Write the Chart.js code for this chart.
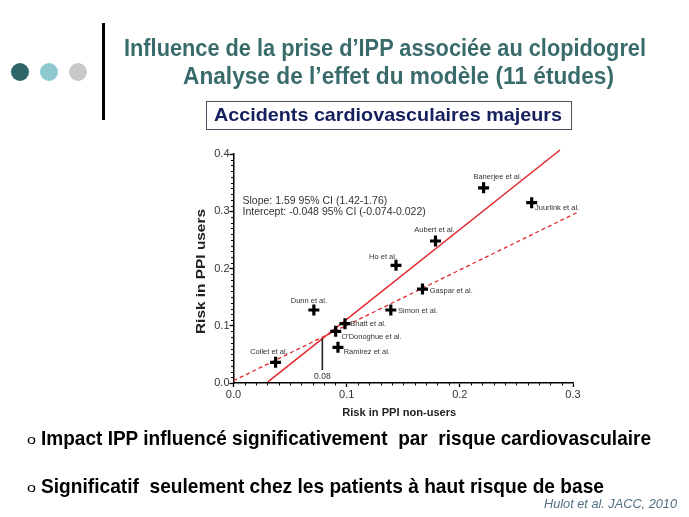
<!DOCTYPE html>
<html><head><meta charset="utf-8">
<script src="https://cdn.jsdelivr.net/npm/chart.js@4"></script>
<style>
html,body{margin:0;padding:0;background:#fff;width:689px;height:517px;overflow:hidden;position:relative;font-family:"Liberation Sans",Arial,sans-serif}
#c{position:absolute;left:0;top:0}
.t{position:absolute;white-space:pre;line-height:1;transform-origin:0 0}
.dot{position:absolute;width:18px;height:18px;border-radius:50%}
</style></head><body>
<canvas id="c" width="689" height="517"></canvas>
<div class="dot" style="left:11px;top:63px;background:#2f6468"></div>
<div class="dot" style="left:40px;top:63px;background:#8ecacd"></div>
<div class="dot" style="left:69px;top:63px;background:#c8c8c8"></div>
<div style="position:absolute;left:102px;top:23px;width:3px;height:97px;background:#000"></div>
<div style="position:absolute;left:206px;top:101px;width:364px;height:27px;border:1px solid #4a5060"></div>
<script>
// ---- data ----
const studies = ["Banerjee et al.","Juurlink et al.","Aubert et al.","Ho et al.","Gaspar et al.","Simon et al.","Dunn et al.","Bhatt et al.","O'Donoghue et al.","Ramirez et al.","Collet et al."];
const riskNonUsers = [0.221,0.2635,0.1785,0.1436,0.167,0.139,0.071,0.0985,0.0903,0.0923,0.0372];
const riskUsers    = [0.341,0.315,0.248,0.2056,0.164,0.1275,0.1275,0.1036,0.0903,0.0624,0.0362];
const regLineX = [0.0304,0.2885];
const regLineY = [0.002,0.407];
const identLineX = [0.0,0.3033];
const identLineY = [0.004,0.2975];
const crossX = [0.0785,0.0785];
const crossY = [0.0227,0.078];
const crossLabel = "0.08";
const xTickValues = [0.0,0.1,0.2,0.3];
const yTickValues = [0.0,0.1,0.2,0.3,0.4];
const statLines = ["Slope: 1.59 95% CI (1.42-1.76)","Intercept: -0.048 95% CI (-0.074-0.022)"];
const xTitle = "Risk in PPI non-users";
const yTitle = "Risk in PPI users";

// label placement (style only): [dx, dy, align]
const labelPlace = [[14,-10.5,'center'],[3.3,5.6,'left'],[-1,-10.7,'center'],[-13,-8,'center'],[7.3,1.7,'left'],[7.3,1.3,'left'],[-5,-9,'center'],[5.3,0.3,'left'],[5.7,5.3,'left'],[5.7,4.7,'left'],[-6.7,-10.3,'center']];

// ---- page texts ----
function addText(txt,left,right,cy,size,weight,style,color){
  const d=document.createElement('div');
  d.className='t';d.textContent=txt;
  d.style.fontSize=size+'px';d.style.fontWeight=weight;d.style.fontStyle=style;d.style.color=color;
  d.style.left=left+'px';d.style.top=(cy-0.49*size)+'px';
  document.body.appendChild(d);
  const w=d.getBoundingClientRect().width;
  d.style.transform='scaleX('+((right-left)/w)+')';
}
addText("Influence de la prise d\u2019IPP associée au clopidogrel",124,646,48.5,23.5,'bold','normal','#3a6b6b');
addText("Analyse de l\u2019effet du modèle (11 études)",183,614,76.5,23.5,'bold','normal','#3a6b6b');
addText("Accidents cardiovasculaires majeurs",214,562,115,18.5,'bold','normal','#15205e');
addText("o",27,36,440,12,'normal','normal','#000');
addText("Impact IPP influencé significativement  par  risque cardiovasculaire",41,651,437,21,'bold','normal','#000');
addText("o",27,36,488,12,'normal','normal','#000');
addText("Significatif  seulement chez les patients à haut risque de base",41,604,485,21,'bold','normal','#000');
addText("Hulot et al. JACC, 2010",544,677,504,13.5,'normal','italic','#4f7080');

// ---- chart ----
function fitText(ctx,txt,x,y,w){
  const m=ctx.measureText(txt).width;
  ctx.save();ctx.translate(x,y);ctx.scale(w/m,1);ctx.textAlign='center';ctx.fillText(txt,0,0);ctx.restore();
}
const FONT='"Liberation Sans", Arial, sans-serif';
const extras={
  id:'extras',
  afterDatasetsDraw(chart){
    const ctx=chart.ctx, xs=chart.scales.x, ys=chart.scales.y, ca=chart.chartArea;
    ctx.save();
    // minor ticks
    ctx.strokeStyle='#000';ctx.lineWidth=1;
    for(let i=1;i<=30;i++){ if(i%10===0) continue; const px=Math.round(xs.getPixelForValue(i/100))+0.5; ctx.beginPath();ctx.moveTo(px,ca.bottom);ctx.lineTo(px,ca.bottom+2.5);ctx.stroke(); }
    for(let i=1;i<=40;i++){ if(i%10===0) continue; const py=Math.round(ys.getPixelForValue(i/100))+0.5; ctx.beginPath();ctx.moveTo(ca.left,py);ctx.lineTo(ca.left-2.5,py);ctx.stroke(); }
    // point labels
    ctx.fillStyle='#333';ctx.font='7.5px '+FONT;ctx.textBaseline='middle';
    studies.forEach((s,i)=>{
      const px=xs.getPixelForValue(riskNonUsers[i]), py=ys.getPixelForValue(riskUsers[i]);
      const p=labelPlace[i]; ctx.textAlign=p[2]; ctx.fillText(s,px+p[0],py+p[1]);
    });
    // 0.08 label
    ctx.font='8.5px '+FONT;ctx.textAlign='center';
    ctx.fillText(crossLabel,xs.getPixelForValue(crossX[0]),ys.getPixelForValue(crossY[0])+7);
    // stats
    ctx.font='10.5px '+FONT;ctx.textAlign='left';ctx.fillStyle='#333';
    ctx.fillText(statLines[0],ca.left+9,ca.top+46.7);
    ctx.fillText(statLines[1],ca.left+9,ca.top+57.7);
    // axis titles
    ctx.fillStyle='#222';ctx.font='bold 11px '+FONT;
    fitText(ctx,xTitle,(ca.left+ca.right)/2-4,ca.bottom+30,114);
    ctx.font='bold 12px '+FONT;
    ctx.save();ctx.translate(ca.left-32,(ca.top+ca.bottom)/2+3);ctx.rotate(-Math.PI/2);
    fitText(ctx,yTitle,0,0,125);ctx.restore();
    ctx.restore();
  }
};
const pts=studies.map((s,i)=>({x:riskNonUsers[i],y:riskUsers[i]}));
new Chart(document.getElementById('c'),{
  type:'scatter',
  data:{datasets:[
    {data:pts,pointStyle:'cross',pointRadius:5.5,pointBorderWidth:3.2,borderColor:'#000',backgroundColor:'#000',order:0},
    {data:regLineX.map((x,i)=>({x,y:regLineY[i]})),showLine:true,pointRadius:0,borderColor:'#e3262b',borderWidth:1.5,clip:false,order:2},
    {data:identLineX.map((x,i)=>({x,y:identLineY[i]})),showLine:true,pointRadius:0,borderColor:'#e3262b',borderWidth:1.3,borderDash:[4,3],clip:false,order:3},
    {data:crossX.map((x,i)=>({x,y:crossY[i]})),showLine:true,pointRadius:0,borderColor:'#222',borderWidth:1.6,clip:false,order:1}
  ]},
  options:{
    responsive:false,animation:false,devicePixelRatio:1,
    layout:{padding:{left:188.5,right:116,top:154,bottom:114}},
    plugins:{legend:{display:false},tooltip:{enabled:false}},
    scales:{
      x:{type:'linear',min:0,max:0.3,
        afterBuildTicks:s=>{s.ticks=xTickValues.map(v=>({value:v}));},
        afterFit:s=>{s.height=20;},
        ticks:{callback:v=>Number(v).toFixed(1),font:{size:11,family:FONT},color:'#333',padding:1,autoSkip:false,maxRotation:0},
        grid:{drawOnChartArea:false,tickLength:4,color:'#000',tickWidth:1.3},
        border:{color:'#000',width:1.5}},
      y:{type:'linear',min:0,max:0.4,
        afterBuildTicks:s=>{s.ticks=yTickValues.map(v=>({value:v}));},
        afterFit:s=>{s.width=45;},
        ticks:{callback:v=>Number(v).toFixed(1),font:{size:11,family:FONT},color:'#333',padding:0},
        grid:{drawOnChartArea:false,tickLength:4,color:'#000',tickWidth:1.3},
        border:{color:'#000',width:1.5}}
    }
  },
  plugins:[extras]
});
</script>
</body></html>
